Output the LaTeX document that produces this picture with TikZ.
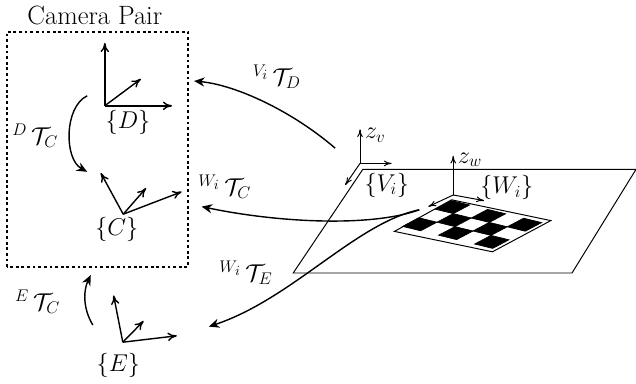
\documentclass[tikz,border=0pt]{standalone}
\usepackage{amsmath, amssymb}
\usetikzlibrary{arrows.meta}
\tikzset{
  axisline/.style={line width=1pt, -{Computer Modern Rightarrow[length=6.5pt, width=6pt]}},
  thinaxis/.style={line width=0.7pt, -{Computer Modern Rightarrow[length=5.5pt, width=4pt]}},
  transform/.style={line width=1pt, -{Stealth[length=7.5pt, width=6.5pt]}},
  lbl/.style={font=\LARGE, inner sep=0pt}
}

\begin{document}
\begin{tikzpicture}
  \useasboundingbox (0,0) rectangle (15.9,9.575);

  % ── Camera pair box ──────────────────────────────────────────────
  \draw[line width=1pt, dash pattern=on 2pt off 2pt] (0.17,2.90) rectangle (4.70,8.78);
  \node[lbl, scale=1.09] (pairlbl) at (2.37,9.18) {Camera Pair};

  % ── Frames D, C, E ───────────────────────────────────────────────
  \coordinate (D0) at (2.62,6.93);
  \coordinate (D1) at (2.62,8.50);
  \coordinate (D2) at (3.52,7.60);
  \coordinate (D3) at (4.30,6.93);

  \coordinate (C0) at (3.08,4.22);
  \coordinate (C1) at (2.52,5.25);
  \coordinate (C2) at (3.65,4.87);
  \coordinate (C3) at (4.54,4.78);

  \coordinate (E0) at (3.07,1.02);
  \coordinate (E1) at (2.84,2.19);
  \coordinate (E2) at (3.59,1.55);
  \coordinate (E3) at (4.42,1.18);

  \foreach \f in {D, C, E}
    { \foreach \k in {1,2,3} { \draw[axisline] (\f0) -- (\f\k); } }

  \node[lbl] (Dlbl) at (3.20,6.52) {$\{D\}$};
  \node[lbl] (Clbl) at (2.92,3.83) {$\{C\}$};
  \node[lbl] (Elbl) at (2.96,0.45) {$\{E\}$};

  % ── Plane and checkerboard ───────────────────────────────────────
  \draw[line width=0.7pt] (9.07,5.34) -- (15.9,5.34) -- (14.30,2.75) -- (7.33,2.75) -- cycle;
  \draw[line width=0.7pt] (11.29,4.58) -- (13.77,4.06) -- (12.31,3.28) -- (9.86,3.79) -- cycle;

  \begin{scope}[shift={(11.29,4.56)}, x={(0.45cm,-0.11cm)}, y={(-0.408cm,-0.215cm)}]
    \foreach \u/\v in {0/0, 2/0, 4/0, 1/1, 3/1, 0/2, 2/2, 4/2}
      { \filldraw[line width=0.5pt] (\u,\v) -- ++(1,0) -- ++(0,1) -- ++(-1,0) -- cycle; }
  \end{scope}

  % ── Frames V and W ───────────────────────────────────────────────
  \coordinate (V0) at (9.00,5.49);
  \coordinate (V1) at (9.00,6.34);
  \coordinate (V2) at (9.79,5.49);
  \coordinate (V3) at (8.63,4.95);

  \coordinate (W0) at (11.33,4.70);
  \coordinate (W1) at (11.33,5.68);
  \coordinate (W2) at (12.10,4.56);
  \coordinate (W3) at (10.71,4.41);

  \foreach \f in {V, W}
    { \foreach \k in {1,2,3} { \draw[thinaxis] (\f0) -- (\f\k); } }

  \node[lbl] (zv) at (9.38,6.20) {$z_v$};
  \node[lbl] (zw) at (11.75,5.58) {$z_w$};
  \node[lbl] (Vlbl) at (9.67,4.95) {$\{V_i\}$};
  \node[lbl] (Wlbl) at (12.67,4.88) {$\{W_i\}$};

  % ── Transforms ───────────────────────────────────────────────────
  \coordinate (vstart) at (8.38,5.87);
  \coordinate (vend)   at (4.85,7.55);
  \coordinate (wstart) at (10.48,4.33);
  \coordinate (cend)   at (5.04,4.41);
  \coordinate (eend)   at (5.22,1.41);

  \draw[transform] (vstart) .. controls (7.3,6.8) and (5.9,7.45) .. (vend);
  \draw[transform] (wstart) .. controls (9.3,3.9) and (7.0,4.0) .. (cend);
  \draw[transform] (wstart) .. controls (8.9,4.0) and (7.3,2.1) .. (eend);

  \coordinate (dcstart) at (2.18,7.18);
  \coordinate (dcend)   at (2.18,5.28);
  \coordinate (ecstart) at (2.32,1.45);
  \coordinate (ecend)   at (2.27,2.70);

  \draw[transform] (dcstart) .. controls (1.6,6.9) and (1.6,5.6) .. (dcend);
  \draw[transform] (ecstart) .. controls (2.05,1.9) and (2.1,2.35) .. (ecend);

  \node[lbl] (DTC) at (0.88,6.18) {${}^{D}\,\mathcal{T}_C$};
  \node[lbl] (VTD) at (6.92,7.65) {${}^{V_i}\,\mathcal{T}_D$};
  \node[lbl] (WTC) at (5.62,4.90) {${}^{W_i}\,\mathcal{T}_C$};
  \node[lbl] (WTE) at (6.15,2.75) {${}^{W_i}\,\mathcal{T}_E$};
  \node[lbl] (ETC) at (0.94,2.03) {${}^{E}\,\mathcal{T}_C$};
\end{tikzpicture}
\end{document}
